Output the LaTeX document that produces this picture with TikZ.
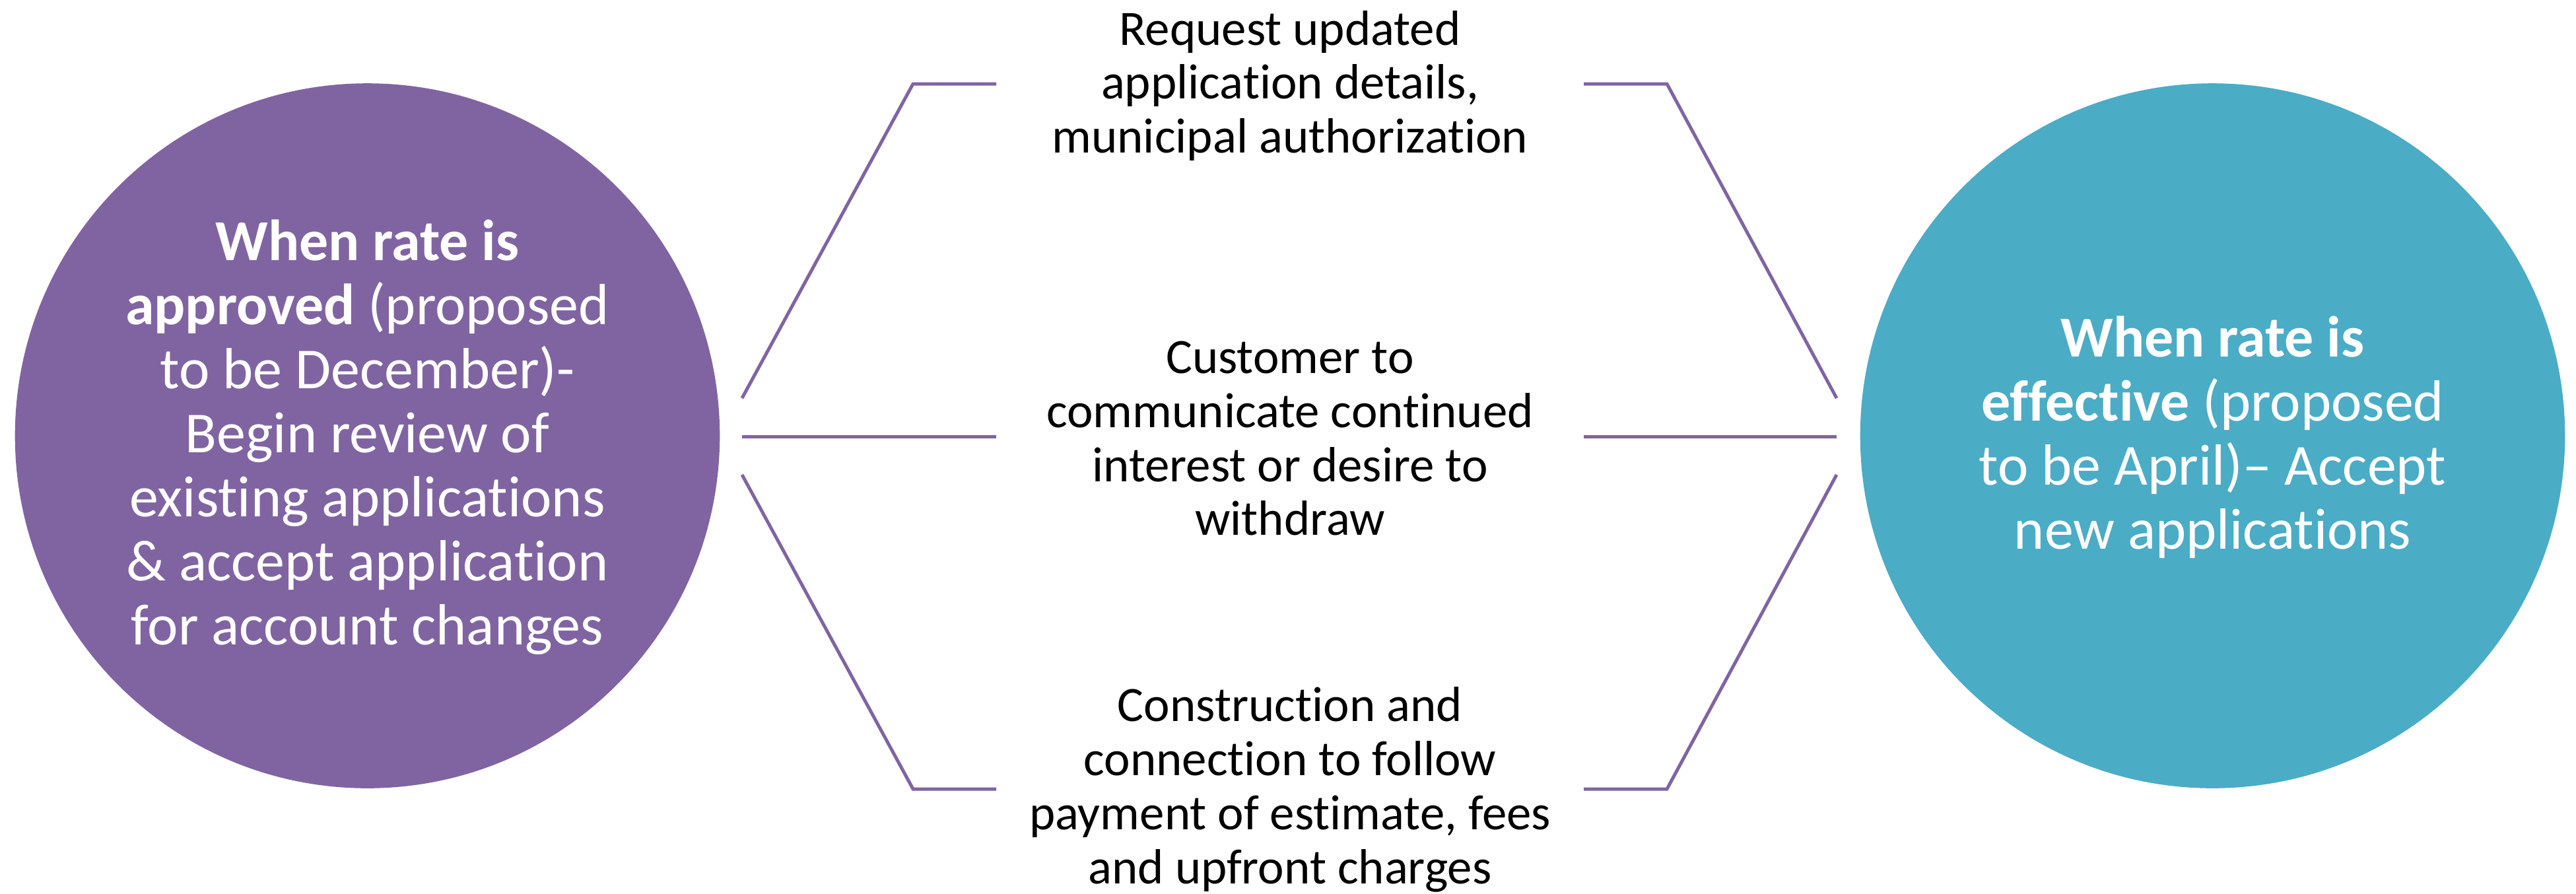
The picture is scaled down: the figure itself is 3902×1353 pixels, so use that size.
\documentclass[tikz,border=0pt]{standalone}
\usepackage{fontspec}
\setmainfont{Carlito}[Ligatures=NoCommon]
\definecolor{cpurple}{HTML}{8064A2}
\definecolor{caqua}{HTML}{4BACC6}
\begin{document}
\begin{tikzpicture}[x=0.01cm,y=-0.01cm,
  bigcirc/.style={circle, inner sep=0pt, minimum size=10.67cm},
  circtext/.style={text=white, align=center, inner sep=0pt, font=\fontsize{25}{27.6}\selectfont},
  midtext/.style={align=center, inner sep=0pt, font=\fontsize{21.3}{23.3}\selectfont},
  link/.style={draw=cpurple, line width=1.42pt}]
\useasboundingbox (0,0) rectangle (3902,1353);
\node[bigcirc, fill=cpurple] (lc) at (556.5,660) {};
\node[bigcirc, fill=caqua] (rc) at (3351.5,660) {};
\node[circtext] (lt) at (556.5,662) {\textbf{When rate is}\\\textbf{approved} (proposed\\to be December)-\\Begin review of\\existing applications\\\& accept application\\for account changes};
\node[circtext] (rt) at (3351.5,662) {\textbf{When rate is}\\\textbf{effective} (proposed\\to be April)– Accept\\new applications};
\node[midtext] (m1) at (1954,130) {Request updated\\application details,\\municipal authorization};
\node[midtext] (m2) at (1954,664) {Customer to\\communicate continued\\interest or desire to\\withdraw};
\node[midtext] (m3) at (1954,1196) {Construction and\\connection to follow\\payment of estimate, fees\\and upfront charges};
% connector anchor points
\coordinate (la1) at (1124,603);
\coordinate (la2) at (1383,127);
\coordinate (la3) at (1509,127);
\coordinate (lb1) at (1124,661);
\coordinate (lb2) at (1509,661);
\coordinate (lc1) at (1124,719);
\coordinate (lc2) at (1383,1195);
\coordinate (lc3) at (1509,1195);
\coordinate (ra1) at (2399,127);
\coordinate (ra2) at (2525,127);
\coordinate (ra3) at (2782,603);
\coordinate (rb1) at (2399,661);
\coordinate (rb2) at (2782,661);
\coordinate (rc1) at (2399,1195);
\coordinate (rc2) at (2525,1195);
\coordinate (rc3) at (2782,719);
\draw[link] (la1) -- (la2) -- (la3);
\draw[link] (lb1) -- (lb2);
\draw[link] (lc1) -- (lc2) -- (lc3);
\draw[link] (ra1) -- (ra2) -- (ra3);
\draw[link] (rb1) -- (rb2);
\draw[link] (rc1) -- (rc2) -- (rc3);
\end{tikzpicture}
\end{document}
